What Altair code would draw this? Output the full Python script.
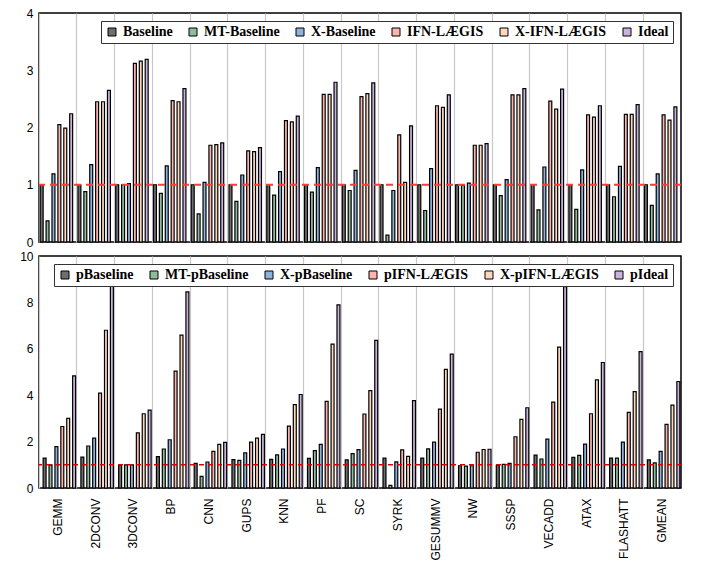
import altair as alt
import pandas as pd

categories = ["GEMM", "2DCONV", "3DCONV", "BP", "CNN", "GUPS", "KNN", "PF", "SC",
              "SYRK", "GESUMMV", "NW", "SSSP", "VECADD", "ATAX", "FLASHATT", "GMEAN"]

top_series = ["Baseline", "MT-Baseline", "X-Baseline", "IFN-LÆGIS", "X-IFN-LÆGIS", "Ideal"]
bottom_series = ["pBaseline", "MT-pBaseline", "X-pBaseline", "pIFN-LÆGIS", "X-pIFN-LÆGIS", "pIdeal"]
colors = ["#6e6e6e", "#8fbc9c", "#8db3dc", "#fbb5ae", "#fdd8bd", "#c9b3dc"]

top_baseline = [1, 1, 1, 1, 1, 1, 1, 1, 1, 1, 1, 1, 1, 1, 1, 1, 1]
top_mt = [0.37, 0.88, 1.00, 0.85, 0.49, 0.71, 0.82, 0.87, 0.90, 0.12, 0.55, 0.99, 0.81, 0.56, 0.57, 0.79, 0.64]
top_x = [1.19, 1.35, 1.02, 1.33, 1.04, 1.17, 1.23, 1.30, 1.25, 0.90, 1.28, 1.03, 1.09, 1.31, 1.26, 1.32, 1.19]
top_ifn = [2.05, 2.45, 3.12, 2.47, 1.69, 1.59, 2.12, 2.58, 2.54, 1.87, 2.38, 1.69, 2.57, 2.46, 2.22, 2.23, 2.22]
top_xifn = [1.99, 2.45, 3.16, 2.45, 1.70, 1.58, 2.10, 2.58, 2.59, 1.04, 2.35, 1.69, 2.57, 2.32, 2.18, 2.23, 2.13]
top_ideal = [2.24, 2.65, 3.19, 2.68, 1.73, 1.65, 2.20, 2.79, 2.78, 2.03, 2.57, 1.72, 2.68, 2.67, 2.38, 2.40, 2.36]

bot_baseline = [1.29, 1.33, 0.98, 1.35, 1.06, 1.22, 1.23, 1.28, 1.21, 1.29, 1.29, 0.96, 0.98, 1.42, 1.32, 1.29, 1.21]
bot_mt = [1.00, 1.81, 1.00, 1.68, 0.50, 1.19, 1.43, 1.61, 1.48, 0.11, 1.69, 0.94, 1.02, 1.25, 1.41, 1.29, 1.08]
bot_x = [1.78, 2.15, 1.00, 2.08, 1.12, 1.51, 1.68, 1.88, 1.65, 1.13, 1.98, 0.96, 1.06, 2.11, 1.89, 1.98, 1.58]
bot_ifn = [2.65, 4.09, 2.38, 5.04, 1.58, 1.98, 2.67, 3.73, 3.19, 1.64, 3.40, 1.54, 2.21, 3.70, 3.20, 3.26, 2.74]
bot_xifn = [3.00, 6.80, 3.20, 6.59, 1.88, 2.15, 3.59, 6.20, 4.20, 1.36, 5.11, 1.66, 2.96, 6.07, 4.66, 4.15, 3.57]
bot_ideal = [4.83, 8.79, 3.36, 8.45, 1.97, 2.31, 4.03, 7.89, 6.36, 3.77, 5.77, 1.67, 3.46, 8.68, 5.41, 5.88, 4.59]


def long_df(series_names, arrays):
    rows = []
    for name, arr in zip(series_names, arrays):
        for c, v in zip(categories, arr):
            rows.append({"cat": c, "series": name, "value": v})
    return pd.DataFrame(rows)


top_df = long_df(top_series, [top_baseline, top_mt, top_x, top_ifn, top_xifn, top_ideal])
bot_df = long_df(bottom_series, [bot_baseline, bot_mt, bot_x, bot_ifn, bot_xifn, bot_ideal])

W = 642


def panel(df, series_names, ymax, show_labels, height, rule_color, rule_width, rule_dash):
    x_axis = alt.Axis(
        title=None,
        labels=show_labels,
        labelAngle=-90,
        labelFont="Liberation Sans",
        labelFontSize=12,
        labelColor="#000000",
        labelPadding=10 if show_labels else 0,
        ticks=False,
        domain=False,
        grid=True,
        gridColor="#c8c8c8",
        gridWidth=1.2,
        bandPosition=0,
    )
    y_axis = alt.Axis(
        title=None,
        values=list(range(0, ymax + 1)),
        format="d",
        labelOverlap=False,
        labelFont="Liberation Sans",
        labelFontSize=12,
        labelColor="#000000",
        labelPadding=6,
        ticks=False,
        domain=False,
        grid=False,
        minExtent=26,
    )
    bars = alt.Chart(df).mark_bar(stroke="#000000", strokeWidth=1.2).encode(
        x=alt.X("cat:N", sort=categories, axis=x_axis,
                scale=alt.Scale(paddingInner=0, paddingOuter=0)),
        xOffset=alt.XOffset("series:N", sort=series_names,
                            scale=alt.Scale(paddingOuter=0.4, paddingInner=0)),
        y=alt.Y("value:Q", axis=y_axis, scale=alt.Scale(domain=[0, ymax], nice=False)),
        color=alt.Color(
            "series:N",
            sort=series_names,
            scale=alt.Scale(domain=series_names, range=colors),
            legend=alt.Legend(
                title=None,
                orient="top-right",
                offset=8,
                direction="horizontal",
                symbolType="square",
                symbolSize=64,
                symbolStrokeColor="#000000",
                symbolStrokeWidth=1,
                symbolOpacity=1,
                labelFont="Liberation Serif",
                labelFontWeight="bold",
                labelFontSize=14,
                labelColor="#000000",
                labelOffset=4,
                columnPadding=13,
                padding=4,
                fillColor="#ffffff",
                strokeColor="#333333",
            ),
        ),
    )
    rule = alt.Chart(pd.DataFrame({"y": [1]})).mark_rule(
        color=rule_color, strokeWidth=rule_width, strokeDash=rule_dash
    ).encode(y="y:Q")
    return alt.layer(bars, rule).properties(width=W, height=height)


top = panel(top_df, top_series, 4, False, 229, "#ff3b3b", 2, [7, 5])
bottom = panel(bot_df, bottom_series, 10, True, 232, "#e00000", 1.5, [5, 4])

chart = alt.vconcat(top, bottom, spacing=0).resolve_scale(
    color="independent"
).resolve_legend(color="independent").properties(
    padding={"left": 4, "top": -2, "right": 5, "bottom": 0},
    background="#ffffff",
).configure_view(stroke="#000000", strokeWidth=1.5)

chart.save("out.html", embed_options={"renderer": "svg", "actions": False})
